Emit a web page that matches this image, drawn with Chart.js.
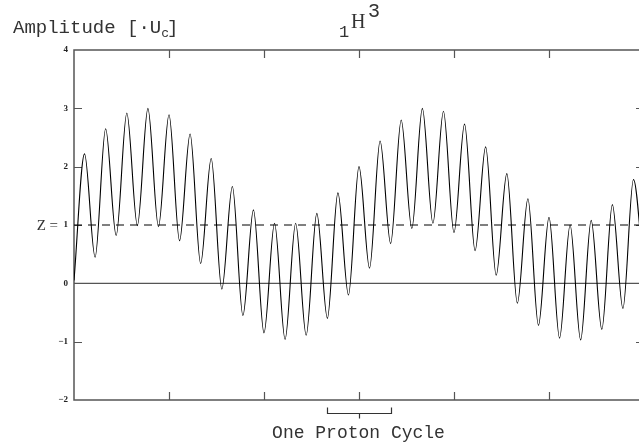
<!DOCTYPE html>
<html>
<head>
<meta charset="utf-8">
<script src="https://cdn.jsdelivr.net/npm/chart.js@4.4.0/dist/chart.umd.min.js"></script>
<style>
  html, body { margin: 0; padding: 0; background: #fff; overflow: hidden; }
  canvas { display: block; }
</style>
</head>
<body>
<canvas id="wave" width="650" height="446"></canvas>
<script>
// position along the axis (tick = 1) of each peak / trough
const xPos = [
  0, 0.111, 0.222, 0.333, 0.444, 0.556, 0.667, 0.778, 0.889, 1,
  1.111, 1.222, 1.333, 1.444, 1.556, 1.667, 1.778, 1.889, 2, 2.111,
  2.222, 2.333, 2.444, 2.556, 2.667, 2.778, 2.889, 3, 3.111, 3.222,
  3.333, 3.444, 3.556, 3.667, 3.778, 3.889, 4, 4.111, 4.222, 4.333,
  4.444, 4.556, 4.667, 4.778, 4.889, 5, 5.111, 5.222, 5.333, 5.444,
  5.556, 5.667, 5.778, 5.889, 6
];
// amplitude at those peaks / troughs [U_c]
const amplitude = [
  0.05, 2.22, 0.45, 2.65, 0.82, 2.92, 0.99, 3.0, 0.97, 2.89,
  0.73, 2.56, 0.34, 2.14, -0.1, 1.66, -0.55, 1.26, -0.85, 1.03,
  -0.96, 1.03, -0.89, 1.2, -0.6, 1.55, -0.2, 2.0, 0.26, 2.44,
  0.68, 2.8, 0.94, 3.0, 1.03, 2.95, 0.87, 2.73, 0.56, 2.34,
  0.14, 1.88, -0.34, 1.45, -0.72, 1.13, -0.94, 1.0, -0.97, 1.08,
  -0.79, 1.35, -0.43, 1.78, 0.1
];
const zLevel = 1;
const yTicks = [-2, -1, 0, 1, 2, 3, 4];
const xTicks = [0, 1, 2, 3, 4, 5, 6];
// one proton cycle bracket (axis units)
const cycleStart = 2.667, cycleMid = 3, cycleEnd = 3.333;

const frameColor = "#555";
const textColor = "#333";
const mono = "'Liberation Mono', 'Courier New', monospace";
const serif = "'Liberation Serif', 'Times New Roman', serif";

const framePlugin = {
  id: "frame",
  beforeDatasetsDraw(chart) {
    const { ctx, chartArea: a, scales } = chart;
    const xs = scales.x, ys = scales.y;
    ctx.save();
    ctx.strokeStyle = frameColor;
    ctx.lineWidth = 1.5;
    ctx.strokeRect(a.left, a.top, a.right - a.left, a.bottom - a.top);
    ctx.lineWidth = 1.2;
    ctx.beginPath();
    // inward ticks on top and bottom
    xTicks.slice(1, -1).forEach(v => {
      const px = Math.round(xs.getPixelForValue(v)) + 0.5;
      ctx.moveTo(px, a.top); ctx.lineTo(px, a.top + 8);
      ctx.moveTo(px, a.bottom); ctx.lineTo(px, a.bottom - 8);
    });
    // inward ticks left and right
    yTicks.slice(1, -1).forEach(v => {
      const py = Math.round(ys.getPixelForValue(v)) + 0.5;
      ctx.moveTo(a.left, py); ctx.lineTo(a.left + 8, py);
      ctx.moveTo(a.right, py); ctx.lineTo(a.right - 8, py);
    });
    ctx.stroke();
    ctx.restore();
  },
  afterDraw(chart) {
    const { ctx, chartArea: a, scales } = chart;
    const xs = scales.x, ys = scales.y;
    ctx.save();
    ctx.fillStyle = textColor;
    ctx.textBaseline = "alphabetic";
    ctx.textAlign = "left";

    // y axis title
    ctx.font = "19px " + mono;
    ctx.fillText("Amplitude [\u00b7U", 13, 33);
    let w = ctx.measureText("Amplitude [\u00b7U").width;
    ctx.font = "13px " + mono;
    ctx.fillText("c", 13 + w, 37);
    const cw = ctx.measureText("c").width;
    ctx.font = "19px " + mono;
    ctx.fillText("]", 11 + w + cw, 33);

    // chart title 1H3
    ctx.font = "17px " + mono;
    ctx.fillText("1", 339, 37);
    ctx.font = "20px " + serif;
    ctx.fillText("H", 351, 28);
    ctx.font = "20px " + mono;
    ctx.fillText("3", 368, 17);

    // "Z =" in front of the 1 tick label
    const zy = ys.getPixelForValue(zLevel);
    ctx.font = "15px " + serif;
    ctx.textAlign = "right";
    ctx.textBaseline = "middle";
    ctx.fillText("Z =", 58, zy + 1);

    // one proton cycle bracket
    const x1 = xs.getPixelForValue(cycleStart);
    const x2 = xs.getPixelForValue(cycleEnd);
    const xm = Math.round(xs.getPixelForValue(cycleMid)) + 0.5;
    const by = a.bottom + 13.5;
    ctx.strokeStyle = "#333";
    ctx.lineWidth = 1.2;
    ctx.beginPath();
    ctx.moveTo(Math.round(x1) + 0.5, by - 6);
    ctx.lineTo(Math.round(x1) + 0.5, by);
    ctx.lineTo(Math.round(x2) + 0.5, by);
    ctx.lineTo(Math.round(x2) + 0.5, by - 6);
    ctx.moveTo(xm, by);
    ctx.lineTo(xm, by + 5);
    ctx.stroke();
    ctx.font = "18px " + mono;
    ctx.textAlign = "center";
    ctx.textBaseline = "alphabetic";
    ctx.fillText("One Proton Cycle", xm - 1, 438);
    ctx.restore();
  }
};

new Chart(document.getElementById("wave"), {
  type: "line",
  data: {
    datasets: [
      {
        data: xPos.map((x, i) => ({ x: x, y: amplitude[i] })),
        borderColor: "#000",
        borderWidth: 1.1,
        pointRadius: 0,
        cubicInterpolationMode: "monotone",
        order: 0
      },
      {
        data: [{ x: xTicks[0], y: zLevel }, { x: xTicks[xTicks.length - 1], y: zLevel }],
        borderColor: "#000",
        borderWidth: 1,
        borderDash: [8, 6],
        pointRadius: 0,
        order: 1
      },
      {
        data: [{ x: xTicks[0], y: 0 }, { x: xTicks[xTicks.length - 1], y: 0 }],
        borderColor: frameColor,
        borderWidth: 1.3,
        pointRadius: 0,
        order: 2
      }
    ]
  },
  options: {
    responsive: false,
    animation: false,
    devicePixelRatio: 1,
    layout: { padding: { left: 0, top: 50, right: 6, bottom: 46 } },
    plugins: { legend: { display: false }, tooltip: { enabled: false } },
    scales: {
      x: {
        type: "linear",
        min: 0,
        max: 6,
        ticks: { display: false, stepSize: 1 },
        grid: { display: false, drawTicks: false },
        border: { display: false },
        afterFit: s => { s.height = 0; }
      },
      y: {
        min: -2,
        max: 4,
        ticks: {
          stepSize: 1,
          padding: 6,
          color: "#222",
          font: { family: serif, size: 9, weight: "bold" },
          callback: v => (v < 0 ? "\u2212" + Math.abs(v) : String(v))
        },
        grid: { display: false, drawTicks: false },
        border: { display: false },
        afterFit: s => { s.width = 74; }
      }
    }
  },
  plugins: [framePlugin]
});
</script>
</body>
</html>
